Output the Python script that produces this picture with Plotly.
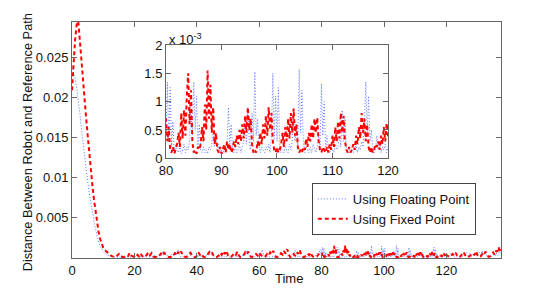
import numpy as np
import plotly.graph_objects as go

# ---------------- data (values in units of 1e-5) ----------------
SCALE = 1e-5

# segment A: t = 0 .. 14, step 0.5  (initial convergence)
t0_a, dt_a = 0.0, 0.5
fixed_a = [2090, 2420, 2720, 2910, 2950, 2720, 2450, 2210, 1970, 1760, 1540, 1310,
           1100, 920, 740, 580, 440, 330, 240, 180, 130, 100, 80, 60, 45, 30, 20, 15, 10]
float_a = [2390, 2320, 2230, 2120, 1990, 1810, 1620, 1440, 1270, 1100, 960, 820,
           690, 570, 470, 370, 280, 200, 150, 110, 80, 60, 45, 30, 25, 20, 15, 10, 10]

# segment B: t = 14.5 .. 79.5, step 0.5
t0_b, dt_b = 14.5, 0.5
fixed_b = [30, 50, 20, 15, 10, 20, 35, 25, 65, 30, 15, 10,
           15, 40, 20, 55, 25, 10, 15, 45, 70, 35, 60, 20,
           10, 15, 10, 30, 55, 30, 65, 40, 20, 10, 15, 10,
           35, 60, 30, 75, 45, 80, 30, 15, 10, 20, 45, 65,
           30, 15, 10, 25, 70, 40, 55, 20, 10, 15, 40, 75,
           45, 60, 20, 10, 15, 30, 65, 40, 85, 50, 90, 30,
           10, 15, 35, 60, 40, 80, 30, 10, 15, 35, 70, 45,
           80, 30, 10, 15, 25, 50, 30, 65, 35, 15, 10, 20,
           50, 30, 70, 45, 90, 35, 10, 15, 30, 60, 40, 85,
           55, 110, 40, 10, 20, 50, 30, 75, 50, 100, 35, 15,
           10, 30, 55, 35, 70, 25, 10, 15, 20, 45, 60]
float_b = [10, 20, 10, 25, 15, 10, 20, 30, 15, 10, 20, 35,
           15, 10, 25, 15, 30, 10, 20, 40, 20, 10, 25, 15,
           30, 10, 20, 45, 25, 70, 35, 80, 30, 10, 20, 45,
           25, 80, 40, 105, 30, 10, 15, 25, 10, 35, 65, 30,
           15, 10, 20, 15, 25, 10, 20, 15, 10, 30, 55, 30,
           75, 25, 10, 20, 15, 10, 25, 15, 30, 10, 20, 15,
           10, 20, 15, 30, 10, 20, 15, 10, 25, 50, 30, 85,
           40, 20, 10, 20, 15, 40, 25, 70, 35, 105, 30, 10,
           20, 15, 10, 25, 15, 10, 20, 15, 30, 55, 30, 90,
           45, 30, 10, 20, 45, 25, 95, 35, 10, 20, 15, 10,
           20, 30, 15, 10, 25, 15, 10, 30, 60, 35, 110]

# segment C: t = 80 .. 120, step 0.25 (zoomed region)
t0_c, dt_c = 80.0, 0.25
fixed_c = [70, 30, 55, 15,   10, 20, 8, 15,    25, 45, 20, 80,   35, 85, 40, 110,
           150, 60, 120, 30, 10, 15, 8, 20,    15, 25, 55, 30,   95, 50, 155, 70,
           130, 45, 90, 25,  45, 15, 10, 20,   8, 15, 25, 10,    30, 15, 25, 10,
           15, 30, 20, 40,   25, 50, 30, 60,   35, 75, 45, 90,   50, 70, 25, 10,
           15, 10, 30, 20,   45, 25, 60, 35,   75, 40, 90, 50,   80, 30, 15, 10,
           20, 10, 15, 25,   45, 20, 55, 30,   70, 35, 80, 45,   88, 40, 60, 20,
           10, 15, 10, 20,   15, 35, 20, 45,   30, 60, 35, 70,   45, 72, 30, 15,
           10, 20, 15, 10,   20, 10, 25, 15,   40, 20, 55, 30,   65, 35, 80, 45,
           75, 30, 15, 10,   20, 10, 15, 25,   15, 40, 25, 55,   35, 80, 45, 70,
           30, 60, 20, 10,   20, 10, 15, 25,   20, 30, 15, 40,   25, 55, 30, 62,
           40]
float_c = [40, 135, 30, 125, 20, 65, 10, 25,   15, 10, 20, 8,    15, 25, 10, 20,
           15, 30, 90, 40,   135, 50, 110, 20, 60, 15, 10, 20,   10, 15, 8, 20,
           15, 25, 45, 20,   40, 15, 25, 10,   15, 8, 20, 10,    30, 90, 25, 60,
           15, 10, 20, 10,   15, 25, 10, 20,   30, 60, 25, 90,   30, 15, 80, 30,
           153, 40, 70, 20,  10, 20, 15, 10,   20, 15, 25, 10,   40, 150, 35, 110,
           30, 125, 20, 10,  15, 10, 20, 15,   10, 25, 15, 30,   88, 30, 60, 20,
           157, 45, 120, 25, 10, 20, 15, 10,   20, 10, 25, 15,   10, 20, 40, 15,
           132, 40, 100, 20, 40, 15, 10, 20,   15, 10, 25, 15,   20, 40, 20, 85,
           30, 70, 20, 10,   15, 10, 20, 10,   15, 25, 10, 20,   15, 30, 20, 60,
           135, 40, 110, 30, 50, 20, 10, 15,   40, 15, 30, 10,   20, 15, 25, 10,
           20]

# segment D: t = 120.5 .. 137.5, step 0.5
t0_d, dt_d = 120.5, 0.5
fixed_d = [20, 10, 25, 50, 30, 65, 20, 10,
           20, 45, 75, 35, 15, 10, 25, 40,
           60, 35, 85, 30, 10, 20, 50, 35,
           80, 45, 15, 20, 45, 70, 40, 95,
           60, 140, 90]
float_d = [15, 30, 60, 25, 10, 20, 15, 10,
           25, 15, 40, 20, 70, 30, 55, 20,
           45, 25, 60, 30, 75, 35, 90, 40,
           70, 25, 15, 30, 20, 45, 25, 60,
           30, 85, 40]

x_ticks_main = [0, 20, 40, 60, 80, 100, 120]
y_ticks_main = [0.005, 0.01, 0.015, 0.02, 0.025]
y_ticklabels_main = ["0.005", "0.01", "0.015", "0.02", "0.025"]
x_ticks_inset = [80, 90, 100, 110, 120]
y_ticks_inset = [0, 0.0005, 0.001, 0.0015, 0.002]
y_ticklabels_inset = ["0", "0.5", "1", "1.5", "2"]

series_names = ["Using Floating Point", "Using Fixed Point"]


def seg_time(t0, dt, vals):
    return t0 + dt * np.arange(len(vals))


t_all = np.concatenate([seg_time(t0_a, dt_a, fixed_a), seg_time(t0_b, dt_b, fixed_b),
                        seg_time(t0_c, dt_c, fixed_c), seg_time(t0_d, dt_d, fixed_d)])
fixed_all = np.array(fixed_a + fixed_b + fixed_c + fixed_d) * SCALE
tf_all = np.concatenate([seg_time(t0_a, dt_a, float_a), seg_time(t0_b, dt_b, float_b),
                         seg_time(t0_c, dt_c, float_c), seg_time(t0_d, dt_d, float_d)])
float_all = np.array(float_a + float_b + float_c + float_d) * SCALE

BLUE = "rgb(95,115,255)"
RED = "#ff0000"
FONT = "Liberation Sans, Arial, Helvetica, sans-serif"
AX = "#666666"

fig = go.Figure()
fig.add_trace(go.Scatter(x=tf_all, y=float_all, mode="lines", name=series_names[0],
                         line=dict(color=BLUE, width=1, dash="1px,2px"),
                         xaxis="x", yaxis="y"))
fig.add_trace(go.Scatter(x=t_all, y=fixed_all, mode="lines", name=series_names[1],
                         line=dict(color=RED, width=2, dash="4px,3px"),
                         xaxis="x", yaxis="y"))

mask_f = (tf_all >= 79) & (tf_all <= 121)
mask_x = (t_all >= 79) & (t_all <= 121)
fig.add_trace(go.Scatter(x=tf_all[mask_f], y=float_all[mask_f], mode="lines", showlegend=False,
                         line=dict(color=BLUE, width=1, dash="1px,2px"),
                         xaxis="x2", yaxis="y2"))
fig.add_trace(go.Scatter(x=t_all[mask_x], y=fixed_all[mask_x], mode="lines", showlegend=False,
                         line=dict(color=RED, width=2, dash="4px,3px"),
                         xaxis="x2", yaxis="y2"))

axis_common = dict(showline=True, linecolor=AX, linewidth=1, mirror="ticks",
                   ticks="inside", ticklen=5, tickcolor=AX, showgrid=False,
                   zeroline=False, tickfont=dict(size=13, color="#111", family=FONT))

# the page body adds an 8px offset, so the figure is 8px smaller and margins shifted
fig.update_layout(
    width=546, height=282,
    margin=dict(l=64, r=53, t=14, b=32, autoexpand=False),
    paper_bgcolor="white", plot_bgcolor="white",
    font=dict(family=FONT, size=13, color="#111"),
    xaxis=dict(domain=[0, 1], range=[0, 137.5], tickvals=x_ticks_main, **axis_common),
    yaxis=dict(domain=[0, 1], range=[0, 0.0294], tickvals=y_ticks_main,
               ticktext=y_ticklabels_main, **axis_common),
    xaxis2=dict(domain=[0.2191, 0.7366], range=[80, 120], tickvals=x_ticks_inset,
                anchor="y2", **axis_common),
    yaxis2=dict(domain=[0.4225, 0.9025], range=[0, 0.002], tickvals=y_ticks_inset,
                ticktext=y_ticklabels_inset, anchor="x2", **axis_common),
    legend=dict(x=0.559, y=0.318, xanchor="left", yanchor="top",
                bgcolor="white", bordercolor="#444", borderwidth=1,
                font=dict(size=13, family=FONT, color="#111"),
                tracegroupgap=0, itemwidth=30),
    showlegend=True,
)

fig.add_annotation(text="Distance Between Robot and Reference Path", xref="paper", yref="paper",
                   x=-0.105, y=0.49, xanchor="center", yanchor="middle", textangle=-90,
                   showarrow=False, font=dict(size=12.8, family=FONT, color="#111"))
fig.add_annotation(text="Time", xref="paper", yref="paper", x=0.506, y=-0.085,
                   xanchor="center", yanchor="middle", showarrow=False,
                   font=dict(size=13, family=FONT, color="#111"))
fig.add_annotation(text="x 10<sup>-3</sup>", xref="paper", yref="paper",
                   x=0.2207, y=0.93, xanchor="left", yanchor="middle", showarrow=False,
                   font=dict(size=13, family=FONT, color="#111"))

fig.write_html("out.html")
